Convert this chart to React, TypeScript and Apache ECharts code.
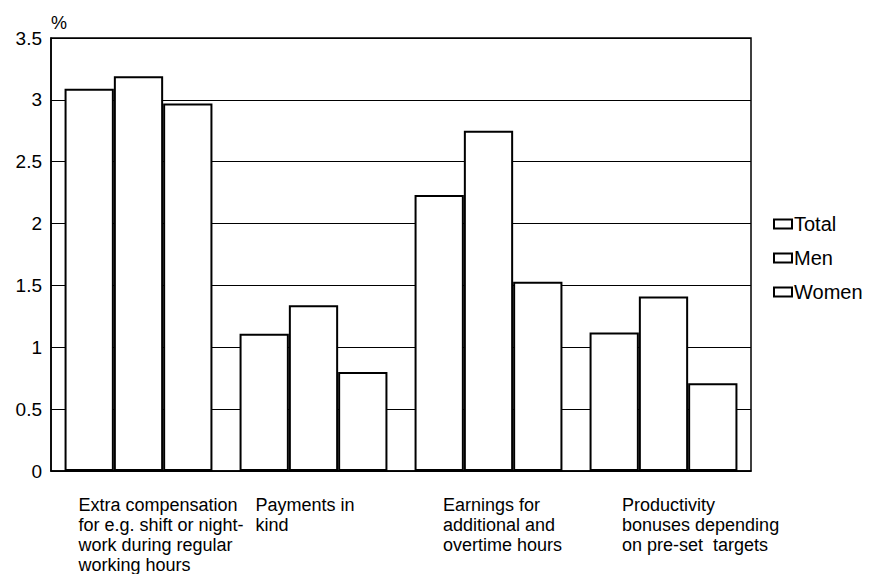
import React, { useEffect, useRef } from "react";
import * as echarts from "echarts";

const categories = [
  "Extra compensation\nfor e.g. shift or night-\nwork during regular\nworking hours",
  "Payments in\nkind",
  "Earnings for\nadditional and\novertime hours",
  "Productivity\nbonuses depending\non pre-set  targets",
];
const seriesNames = ["Total", "Men", "Women"];
const totalValues = [3.09, 1.11, 2.23, 1.12];
const menValues = [3.19, 1.34, 2.75, 1.41];
const womenValues = [2.97, 0.8, 1.53, 0.71];
const yTicks = { min: 0, max: 3.5, interval: 0.5 };

// layout: width of the left-aligned label box centred on each category tick
const labelBoxWidths = [120, 116, 91, 83];

const FONT = "'Liberation Sans', Arial, Helvetica, sans-serif";

export default function App() {
  const ref = useRef<HTMLDivElement>(null);
  useEffect(() => {
    if (!ref.current) return;
    const chart = echarts.init(ref.current, null, { renderer: "svg" });
    const values = [totalValues, menValues, womenValues];
    const rich: Record<string, any> = {};
    labelBoxWidths.forEach((w, i) => {
      rich["a" + i] = {
        width: w,
        align: "left",
        fontSize: 18,
        lineHeight: 20,
        fontFamily: FONT,
        color: "#000",
      };
    });
    chart.setOption({
      animation: false,
      backgroundColor: "#ffffff",
      textStyle: { fontFamily: FONT, color: "#000" },
      grid: {
        left: 51,
        top: 38,
        right: 120,
        bottom: 101,
        show: true,
        borderColor: "#000",
        borderWidth: 1.5,
        backgroundColor: "transparent",
      },
      legend: {
        orient: "vertical",
        left: 773,
        top: 214,
        padding: 0,
        itemWidth: 18,
        itemHeight: 9,
        itemGap: 14,
        icon: "rect",
        data: seriesNames,
        textStyle: { fontFamily: FONT, fontSize: 20, color: "#000", padding: [0, 0, 0, -3] },
      },
      xAxis: {
        type: "category",
        data: categories,
        axisTick: { show: false },
        axisLine: { show: true, lineStyle: { color: "#000", width: 1.5 } },
        axisLabel: {
          interval: 0,
          margin: 24,
          align: "center",
          verticalAlign: "top",
          formatter: (v: string, idx: number) =>
            v
              .split("\n")
              .map((l) => "{a" + idx + "|" + l + "}")
              .join("\n"),
          rich,
        },
      },
      yAxis: {
        type: "value",
        min: yTicks.min,
        max: yTicks.max,
        interval: yTicks.interval,
        name: "%",
        nameLocation: "end",
        nameGap: 15,
        nameTextStyle: {
          align: "left",
          verticalAlign: "middle",
          fontSize: 18,
          fontFamily: FONT,
          color: "#000",
        },
        axisLine: { show: true, lineStyle: { color: "#000", width: 1.5 } },
        axisTick: { show: false },
        axisLabel: { fontSize: 19, color: "#000", margin: 9, fontFamily: FONT },
        splitLine: { show: true, lineStyle: { color: "#000", width: 1.2 } },
      },
      series: seriesNames.map((name, i) => ({
        name,
        type: "bar",
        data: values[i],
        barGap: "0%",
        barCategoryGap: "15.5%",
        itemStyle: { color: "#ffffff", borderColor: "#000", borderWidth: 2 },
      })),
    });
    return () => chart.dispose();
  }, []);
  return (
    <div
      ref={ref}
      style={{ position: "fixed", left: 0, top: 0, width: 871, height: 574, background: "#fff" }}
    />
  );
}
